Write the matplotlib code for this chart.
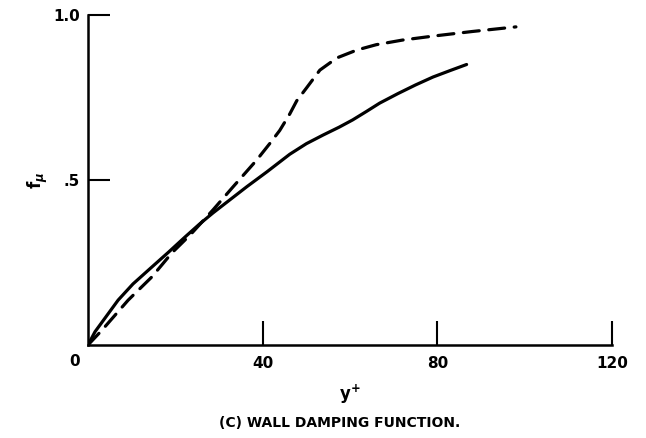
import matplotlib
matplotlib.use("Agg")
import matplotlib.pyplot as plt
import numpy as np

# Data
solid_x = [0, 1.6, 6.9, 10.3, 14.6, 18.5, 22.2, 25.5, 28.6, 32.5, 36.4, 41.0, 46.2, 50.0, 53.8, 57.5, 60.6, 63.8, 66.8, 71.0, 75.0, 79.0, 83.0, 86.7]
solid_y = [0, 0.040, 0.136, 0.185, 0.236, 0.282, 0.327, 0.366, 0.400, 0.440, 0.480, 0.525, 0.578, 0.610, 0.636, 0.660, 0.682, 0.708, 0.733, 0.762, 0.788, 0.812, 0.832, 0.850]

dash_x = [0, 3.2, 9.2, 14.6, 19.2, 23.5, 28.6, 33.2, 38.6, 41.6, 43.9, 46.2, 47.8, 50.1, 53.1, 57.0, 61.6, 66.0, 72.0, 79.0, 88.0, 98.0]
dash_y = [0, 0.045, 0.136, 0.206, 0.279, 0.335, 0.409, 0.479, 0.560, 0.610, 0.650, 0.700, 0.740, 0.780, 0.833, 0.870, 0.894, 0.910, 0.924, 0.936, 0.950, 0.964]

xticks = [40, 80, 120]
xticklabels = ["40", "80", "120"]
yticks = [0.5, 1.0]
yticklabels = [".5", "1.0"]

plt.rcParams['font.family'] = ['DejaVu Sans']
plt.rcParams['font.weight'] = 'bold'

fig = plt.figure(figsize=(6.46, 4.38), dpi=100)
ax = fig.add_axes([88/646, 1-345/438, (612-88)/646, (345-15)/438])

ax.plot(solid_x, solid_y, color='black', lw=2.3, solid_capstyle='round',
        solid_joinstyle='round')
ax.plot(dash_x, dash_y, color='black', lw=2.3, dashes=(5, 3), dash_capstyle='round',
        dash_joinstyle='round')

ax.set_xlim(0, 120)
ax.set_ylim(0, 1.0)
for s in ['top', 'right']:
    ax.spines[s].set_visible(False)
for s in ['left', 'bottom']:
    ax.spines[s].set_linewidth(1.8)

ax.set_xticks(xticks)
ax.set_xticklabels(xticklabels, fontsize=11, fontweight='bold')
ax.set_yticks(yticks)
ax.set_yticklabels(yticklabels, fontsize=11, fontweight='bold')
ax.tick_params(axis='x', direction='in', length=17, width=1.5, pad=8)
ax.tick_params(axis='y', direction='in', length=16, width=1.5, pad=6)
ax.text(-3, -0.027, "0", transform=ax.transData, ha='center', va='top',
        fontsize=11, fontweight='bold')

ax.set_xlabel(r"y$^{+}$", fontsize=12, fontweight='bold', labelpad=8)
ax.set_ylabel(r"f$_{\mu}$", fontsize=12, fontweight='bold')
ax.yaxis.set_label_coords(-0.072, 0.5)

fig.text(340/646, 1-423/438, "(C) WALL DAMPING FUNCTION.", ha='center', va='center',
         fontsize=10, fontweight='bold')

fig.savefig("out.png", dpi=100)
